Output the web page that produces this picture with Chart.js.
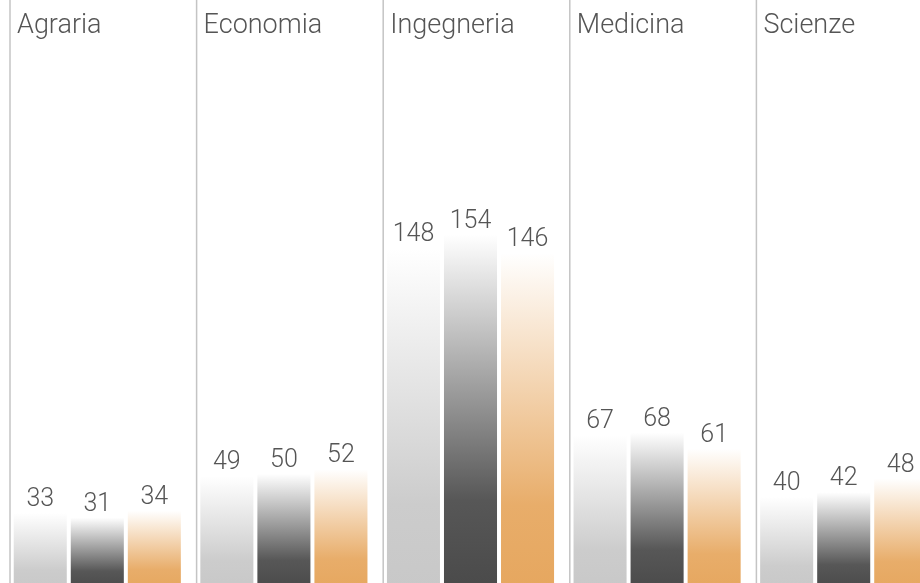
<!DOCTYPE html>
<html>
<head>
<meta charset="utf-8">
<script src="https://cdn.jsdelivr.net/npm/chart.js@4"></script>
<style>
  html, body { margin: 0; padding: 0; background: #fff; overflow: hidden; }
  #wrap { width: 940px; height: 589px; }
</style>
</head>
<body>
<div id="wrap"><canvas id="chart" width="940" height="589"></canvas></div>
<script>
// ---------------- DATA ----------------
const faculties = ["Agraria", "Economia", "Ingegneria", "Medicina", "Scienze"];
const seriesA = [33, 49, 148, 67, 40];
const seriesB = [31, 50, 154, 68, 42];
const seriesC = [34, 52, 146, 61, 48];

// bottom colour of each series, fading to white at the top of the bar
const baseColors = [[200, 200, 200], [74, 74, 74], [230, 167, 95]];

function mix(c, t) {
    // t = 0 -> white, t = 1 -> colour
    return "rgb(" + c.map(v => Math.round(255 + (v - 255) * t)).join(",") + ")";
}

function barFill(idx) {
    return (ctx) => {
        const chart = ctx.chart;
        const c = baseColors[idx];
        if (!chart.chartArea || ctx.raw === undefined) return mix(c, 1);
        const y = chart.scales.y.getPixelForValue(ctx.raw);
        const base = chart.scales.y.getPixelForValue(0);
        const g = chart.ctx.createLinearGradient(0, y, 0, base);
        g.addColorStop(0, mix(c, 0));
        g.addColorStop(0.4, mix(c, 0.5));
        g.addColorStop(0.75, mix(c, 0.93));
        g.addColorStop(1, mix(c, 1));
        return g;
    };
}

// ---------------- PLUGIN: separators, titles, values ----------------
const decor = {
    id: "decor",
    beforeDatasetsDraw(chart) {
        const { ctx, chartArea } = chart;
        const catW = (chartArea.right - chartArea.left) / faculties.length;
        ctx.save();
        ctx.strokeStyle = "#c4c4c4";
        ctx.lineWidth = 1.5;
        faculties.forEach((f, i) => {
            const x = chartArea.left + i * catW + 6;
            ctx.beginPath();
            ctx.moveTo(x, 0);
            ctx.lineTo(x, chart.height);
            ctx.stroke();
            ctx.fillStyle = "#555";
            ctx.font = "300 27px Roboto, 'Liberation Sans', sans-serif";
            ctx.textAlign = "left";
            ctx.textBaseline = "alphabetic";
            ctx.fillText(f, x + 7, 33);
        });
        ctx.restore();
    },
    afterDatasetsDraw(chart) {
        const { ctx } = chart;
        ctx.save();
        ctx.fillStyle = "#555";
        ctx.font = "300 25px Roboto, 'Liberation Sans', sans-serif";
        ctx.textAlign = "center";
        ctx.textBaseline = "alphabetic";
        chart.data.datasets.forEach((ds, di) => {
            chart.getDatasetMeta(di).data.forEach((bar, i) => {
                ctx.fillText(String(ds.data[i]), bar.x, bar.y - 7);
            });
        });
        ctx.restore();
    }
};

// ---------------- DRAW CHART ----------------
new Chart(document.getElementById("chart"), {
    type: "bar",
    data: {
        labels: faculties,
        datasets: [
            { data: seriesA, backgroundColor: barFill(0) },
            { data: seriesB, backgroundColor: barFill(1) },
            { data: seriesC, backgroundColor: barFill(2) }
        ]
    },
    options: {
        responsive: false,
        animation: false,
        devicePixelRatio: 1,
        layout: { padding: { left: 4, right: 3, top: 0, bottom: 0 } },
        categoryPercentage: 0.917,
        barPercentage: 0.93,
        plugins: { legend: { display: false }, tooltip: { enabled: false } },
        scales: {
            x: { display: false },
            y: { display: false, min: 0, max: 256 }
        }
    },
    plugins: [decor]
});
</script>
</body>
</html>
